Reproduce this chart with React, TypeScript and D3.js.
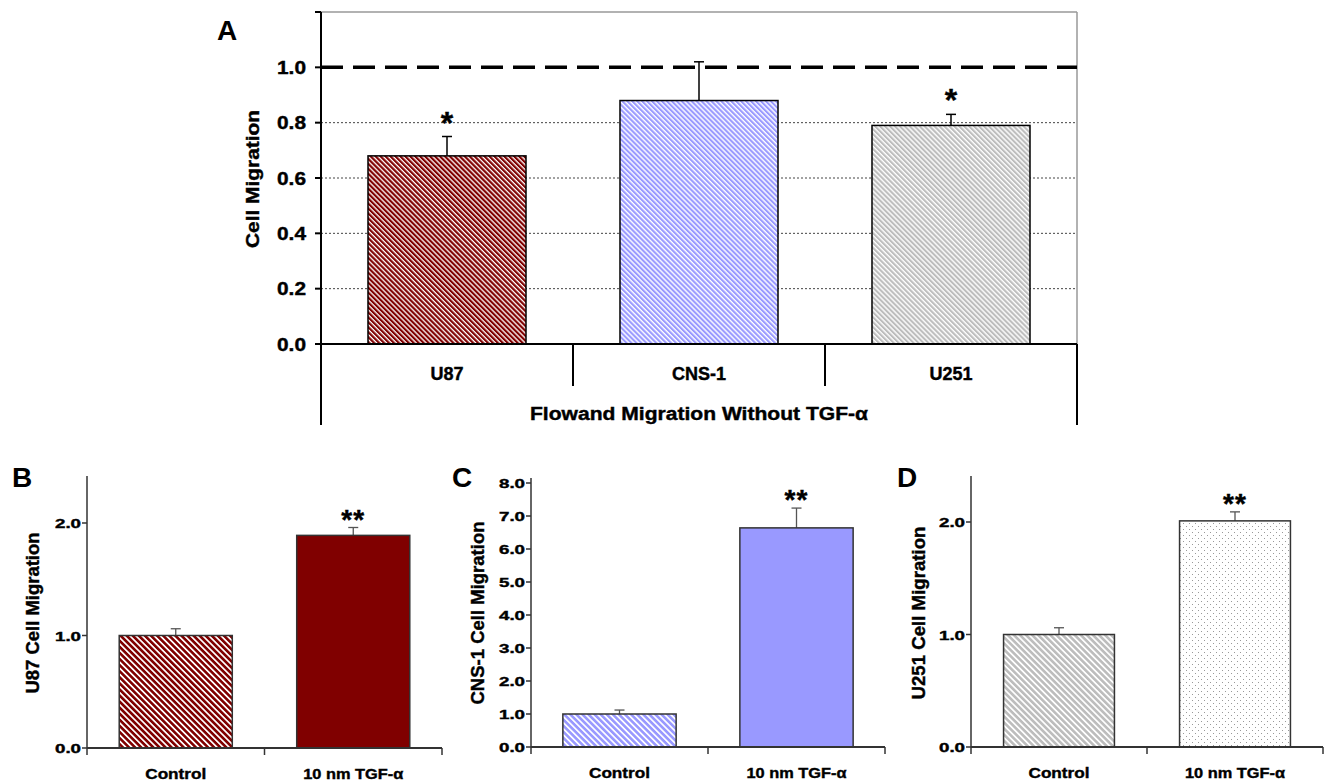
import React from "react";
import { scaleLinear, scaleBand } from "d3";

// panel A: flow migration without TGF-alpha, relative to control (1.0)
const cellLines = ["U87", "CNS-1", "U251"];
const migrationA = [0.68, 0.88, 0.79];
const errorA = [0.07, 0.14, 0.04];
const starsA = ["*", "", "*"];
const ticksA = [0, 0.2, 0.4, 0.6, 0.8, 1.0];
const gridA = [0.2, 0.4, 0.6, 0.8];

// panels B-D: control vs 10 nm TGF-alpha
const treatments = ["Control", "10 nm TGF-α"];
const u87Values = [1.0, 1.89];
const u87Errors = [0.06, 0.07];
const cns1Values = [1.0, 6.64];
const cns1Errors = [0.12, 0.6];
const u251Values = [1.0, 2.01];
const u251Errors = [0.06, 0.08];
const ticksBD = [0, 1, 2];
const ticksC = [0, 1, 2, 3, 4, 5, 6, 7, 8];

const FONT = "'Liberation Sans', Arial, sans-serif";
// slight outline to get the heavy look of the original bold labels
const heavy = { stroke: "#000", strokeWidth: 0.4 };

function Patterns() {
  const stripe = (id: string, color: string, w: number, fill: number) => (
    <pattern
      id={id}
      width={w}
      height={10}
      patternUnits="userSpaceOnUse"
      patternTransform="rotate(-45)"
    >
      <rect width={w} height={10} fill="#fff" />
      <rect width={fill} height={10} fill={color} />
    </pattern>
  );
  return (
    <defs>
      {stripe("hatchA0", "#800000", 3.5, 2.2)}
      {stripe("hatchA1", "#9999ff", 3.5, 2.1)}
      {stripe("hatchA2", "#bdbdbd", 3.5, 2.1)}
      {stripe("hatchB", "#800000", 4.3, 2.6)}
      {stripe("hatchC", "#9999ff", 4.3, 2.6)}
      {stripe("hatchD", "#bdbdbd", 4.3, 2.6)}
      <pattern id="dotsD" width={6} height={6} patternUnits="userSpaceOnUse">
        <rect width={6} height={6} fill="#fff" />
        <rect x={1} y={1} width={1} height={1} fill="#999" />
        <rect x={4} y={4} width={1} height={1} fill="#999" />
      </pattern>
    </defs>
  );
}

function PanelA() {
  const left = 321;
  const right = 1077;
  const top = 12;
  const bottom = 344;
  const y = scaleLinear().domain([0, 1.2]).range([bottom, top]);
  const x = scaleBand<string>()
    .domain(cellLines)
    .range([left, right])
    .paddingInner(0.373)
    .paddingOuter(0.1865);
  const step = x.step();

  return (
    <g fontFamily={FONT} fontWeight="bold">
      <text x={217} y={40} fontSize={28}>A</text>

      {/* grid */}
      {gridA.map((t) => (
        <line key={t} x1={left} x2={right} y1={y(t)} y2={y(t)}
          stroke="#444" strokeWidth={1} strokeDasharray="2,2" />
      ))}

      {/* frame */}
      <line x1={left} x2={right} y1={top} y2={top} stroke="#999" strokeWidth={1.5} />
      <line x1={right} x2={right} y1={top} y2={bottom} stroke="#999" strokeWidth={1.5} />

      {/* bars */}
      {cellLines.map((c, i) => {
        const bx = x(c) as number;
        const cx = bx + x.bandwidth() / 2;
        const errTop = y(migrationA[i] + errorA[i]);
        return (
          <g key={c}>
            <line x1={cx} x2={cx} y1={y(migrationA[i])} y2={errTop} stroke="#000" strokeWidth={1.5} />
            <line x1={cx - 5} x2={cx + 5} y1={errTop} y2={errTop} stroke="#000" strokeWidth={1.5} />
            <rect x={bx} y={y(migrationA[i])} width={x.bandwidth()}
              height={bottom - y(migrationA[i])} fill={`url(#hatchA${i})`}
              stroke="#000" strokeWidth={1.5} />
            {starsA[i] && (
              <text x={cx} y={errTop - 3} fontSize={32} textAnchor="middle" {...heavy}>{starsA[i]}</text>
            )}
            <text x={cx} y={380} fontSize={18} textAnchor="middle" {...heavy}>{c}</text>
          </g>
        );
      })}

      {/* reference line at 1.0 */}
      <line x1={left} x2={right} y1={y(1)} y2={y(1)} stroke="#000"
        strokeWidth={3.5} strokeDasharray="22,10" />

      {/* y axis */}
      <line x1={left} x2={left} y1={top} y2={425} stroke="#000" strokeWidth={2} />
      {[...ticksA, 1.2].map((t) => (
        <line key={t} x1={left - 6} x2={left} y1={y(t)} y2={y(t)} stroke="#000" strokeWidth={2} />
      ))}
      {ticksA.map((t) => (
        <text key={t} x={306} y={y(t) + 6.5} fontSize={18} textAnchor="end" {...heavy}
          textLength={29} lengthAdjust="spacingAndGlyphs">{t.toFixed(1)}</text>
      ))}
      <text transform="translate(259,179) rotate(-90)" fontSize={18} textAnchor="middle" {...heavy}
        textLength={138} lengthAdjust="spacingAndGlyphs">Cell Migration</text>

      {/* x axis with category separators */}
      <line x1={left} x2={right} y1={bottom} y2={bottom} stroke="#000" strokeWidth={2} />
      {cellLines.slice(1).map((c) => {
        const sx = (x(c) as number) - (step - x.bandwidth()) / 2;
        return <line key={c} x1={sx} x2={sx} y1={bottom} y2={386} stroke="#000" strokeWidth={2} />;
      })}
      <line x1={right} x2={right} y1={bottom} y2={425} stroke="#000" strokeWidth={2} />
      <text x={(left + right) / 2} y={420} fontSize={18} textAnchor="middle" {...heavy}
        textLength={338} lengthAdjust="spacingAndGlyphs">Flowand Migration Without TGF-α</text>
    </g>
  );
}

interface SmallProps {
  letter: string;
  letterX: number;
  left: number;
  right: number;
  top: number;
  bottom: number;
  yMax: number;
  axisTop: number;
  ticks: number[];
  values: number[];
  errors: number[];
  fills: string[];
  title: string;
  titleX: number;
  titleLen: number;
  pad: number;
}

function SmallPanel(p: SmallProps) {
  const y = scaleLinear().domain([0, p.yMax]).range([p.bottom, p.top]);
  const x = scaleBand<string>()
    .domain(treatments)
    .range([p.left, p.right])
    .paddingInner(p.pad)
    .paddingOuter(p.pad / 2);
  const step = x.step();
  const bounds = [p.left, p.left + step, p.right];
  const ink = "#333";

  return (
    <g fontFamily={FONT} fontWeight="bold">
      <text x={p.letterX} y={487} fontSize={28}>{p.letter}</text>

      {treatments.map((t, i) => {
        const bx = x(t) as number;
        const cx = bx + x.bandwidth() / 2;
        const errTop = y(p.values[i] + p.errors[i]);
        return (
          <g key={t}>
            <line x1={cx} x2={cx} y1={y(p.values[i])} y2={errTop} stroke="#555" strokeWidth={1.3} />
            <line x1={cx - 5} x2={cx + 5} y1={errTop} y2={errTop} stroke="#555" strokeWidth={1.3} />
            <rect x={bx} y={y(p.values[i])} width={x.bandwidth()}
              height={p.bottom - y(p.values[i])} fill={p.fills[i]} stroke={ink} strokeWidth={1.5} />
            {i === 1 && (
              <text x={cx} y={errTop + 1} fontSize={28} textAnchor="middle" {...heavy}
                letterSpacing={1}>**</text>
            )}
            <text x={cx} y={p.bottom + 31} fontSize={15} textAnchor="middle" {...heavy}
              textLength={t === "Control" ? 61 : 100} lengthAdjust="spacingAndGlyphs">{t}</text>
          </g>
        );
      })}

      {/* y axis */}
      <line x1={p.left} x2={p.left} y1={p.axisTop} y2={p.bottom} stroke={ink} strokeWidth={1.5} />
      {p.ticks.map((t) => (
        <g key={t}>
          <line x1={p.left - 5} x2={p.left} y1={y(t)} y2={y(t)} stroke={ink} strokeWidth={1.5} />
          <text x={p.left - 6} y={y(t) + 5} fontSize={13} textAnchor="end" {...heavy}
            textLength={26} lengthAdjust="spacingAndGlyphs">{t.toFixed(1)}</text>
        </g>
      ))}
      <text transform={`translate(${p.titleX},613) rotate(-90)`} fontSize={18} textAnchor="middle"
        {...heavy} textLength={p.titleLen} lengthAdjust="spacingAndGlyphs">{p.title}</text>

      {/* x axis */}
      <line x1={p.left} x2={p.right} y1={p.bottom} y2={p.bottom} stroke={ink} strokeWidth={2} />
      {bounds.map((b, i) => (
        <line key={i} x1={b} x2={b} y1={p.bottom} y2={p.bottom + 7} stroke={ink} strokeWidth={1.5} />
      ))}
    </g>
  );
}

export default function App() {
  return (
    <svg width={1327} height={783}
      style={{ position: "absolute", left: 0, top: 0, background: "#fff" }}>
      <Patterns />
      <rect width={1327} height={783} fill="#fff" />
      <PanelA />
      <SmallPanel letter="B" letterX={12} left={87} right={442} top={478} bottom={748}
        yMax={2.4} axisTop={476} ticks={ticksBD} values={u87Values} errors={u87Errors}
        fills={["url(#hatchB)", "#800000"]} title="U87 Cell Migration" titleX={39}
        titleLen={161} pad={0.363} />
      <SmallPanel letter="C" letterX={452} left={531} right={885} top={483} bottom={747}
        yMax={8} axisTop={478} ticks={ticksC} values={cns1Values} errors={cns1Errors}
        fills={["url(#hatchC)", "#9999ff"]} title="CNS-1 Cell Migration" titleX={484}
        titleLen={183} pad={0.36} />
      <SmallPanel letter="D" letterX={897} left={971} right={1323} top={477} bottom={747}
        yMax={2.4} axisTop={476} ticks={ticksBD} values={u251Values} errors={u251Errors}
        fills={["url(#hatchD)", "url(#dotsD)"]} title="U251 Cell Migration" titleX={925}
        titleLen={173} pad={0.37} />
    </svg>
  );
}
